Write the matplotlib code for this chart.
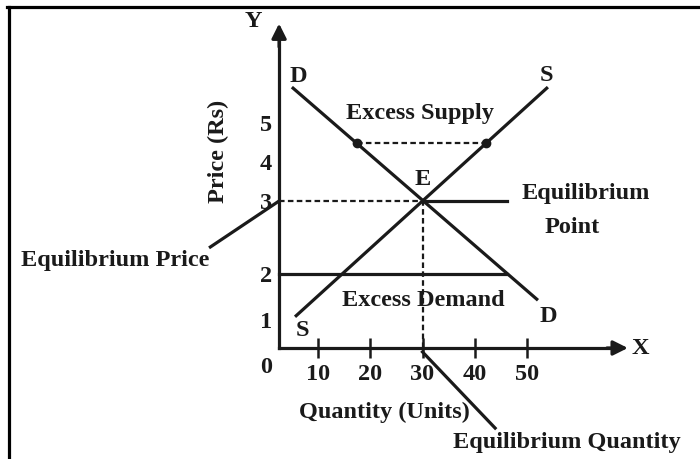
import numpy as np
import matplotlib
matplotlib.use("Agg")
import matplotlib.pyplot as plt

# ---------------- data ----------------
quantity_ticks = [10, 20, 30, 40, 50]
price_ticks = [1, 2, 3, 4, 5]
eq_quantity = 30
eq_price = 3
supply_q = [5.6, 54.0]
supply_p = [1.07, 5.92]
demand_q = [5.0, 52.1]
demand_p = [5.92, 1.43]
excess_supply_price = 4.5
excess_supply_q = [17.4, 42.2]
excess_demand_price = 2
excess_demand_q_end = 46.2

# ---------------- layout: schematic (hand-drawn) price axis ----------------
W, H = 700, 459
X0_PX, X_PX_PER_UNIT = 265.75, 5.225
P_KNOTS = np.array([-20, 0, 1, 2, 3, 4, 5, 20], dtype=float)
P_PIX = np.array([348 + 20 * 28, 348, 320, 274, 201, 162, 123, 123 - 15 * 39], dtype=float)
FWD_Y = H - P_PIX  # increasing


def p_forward(p):
    return np.interp(np.asarray(p, dtype=float), P_KNOTS, FWD_Y)


def p_inverse(v):
    return np.interp(np.asarray(v, dtype=float), FWD_Y, P_KNOTS)


fig = plt.figure(figsize=(W / 100, H / 100), dpi=100)
ax = fig.add_axes([0, 0, 1, 1])
ax.set_yscale('function', functions=(p_forward, p_inverse))
ax.set_xlim((0 - X0_PX) / X_PX_PER_UNIT, (W - X0_PX) / X_PX_PER_UNIT)
ax.set_ylim(float(p_inverse(0)), float(p_inverse(H)))

FONT = dict(family='Liberation Serif', fontweight='bold', color='#1a1a1a')
FS = 17.5
LW = 2.3

Y_AXIS_Q = 2.55      # quantity where the price axis is drawn
Y_TOP = 7.55         # arrow tip on the price axis
X_RIGHT = 69.3       # arrow tip on the quantity axis

# spines as the axes
for s in ['top', 'right']:
    ax.spines[s].set_visible(False)
ax.spines['bottom'].set_position(('data', 0))
ax.spines['left'].set_position(('data', Y_AXIS_Q))
ax.spines['bottom'].set_bounds(Y_AXIS_Q, X_RIGHT - 2)
ax.spines['left'].set_bounds(0, Y_TOP - 0.3)
for s in ['bottom', 'left']:
    ax.spines[s].set_linewidth(LW)
    ax.spines[s].set_color('#1a1a1a')

ax.set_xticks(quantity_ticks)
ax.set_xticklabels([str(v) for v in quantity_ticks])
ax.set_yticks(price_ticks)
ax.set_yticklabels([str(v) for v in price_ticks])
ax.tick_params(axis='x', direction='inout', length=15, width=1.8, color='#1a1a1a', pad=4)
ax.tick_params(axis='y', length=0, pad=5)
for lab in ax.get_xticklabels() + ax.get_yticklabels():
    lab.set_fontfamily('Liberation Serif')
    lab.set_fontweight('bold')
    lab.set_fontsize(FS)
    lab.set_color('#1a1a1a')

# arrowheads
ax.annotate('', xy=(Y_AXIS_Q, Y_TOP), xytext=(Y_AXIS_Q, Y_TOP - 0.6),
            arrowprops=dict(arrowstyle='-|>', lw=LW, color='#1a1a1a', mutation_scale=22, shrinkA=0, shrinkB=0))
ax.annotate('', xy=(X_RIGHT, 0), xytext=(X_RIGHT - 4, 0),
            arrowprops=dict(arrowstyle='-|>', lw=LW, color='#1a1a1a', mutation_scale=22, shrinkA=0, shrinkB=0))

# curves
ax.plot(supply_q, supply_p, color='#1a1a1a', lw=LW, solid_capstyle='butt')
ax.plot(demand_q, demand_p, color='#1a1a1a', lw=LW, solid_capstyle='butt')

# equilibrium guides
ax.plot([Y_AXIS_Q, eq_quantity], [eq_price, eq_price], color='#1a1a1a', lw=1.6, ls=(0, (2.5, 1.5)))
ax.plot([eq_quantity, eq_quantity], [0, eq_price], color='#1a1a1a', lw=1.6, ls=(0, (2.5, 1.5)))

# excess supply / demand
ax.plot(excess_supply_q, [excess_supply_price] * 2, color='#1a1a1a', lw=1.6, ls=(0, (2.5, 1.5)))
ax.plot(excess_supply_q, [excess_supply_price] * 2, 'o', color='#1a1a1a', ms=6)
ax.plot([Y_AXIS_Q, excess_demand_q_end], [excess_demand_price] * 2, color='#1a1a1a', lw=LW)

# pointer lines
ax.plot([eq_quantity, 46.2], [eq_price, eq_price], color='#1a1a1a', lw=LW)
ax.plot([-10.6, Y_AXIS_Q], [2.37, eq_price], color='#1a1a1a', lw=LW)
ax.plot([eq_quantity, 43.9], [-0.14, -2.86], color='#1a1a1a', lw=LW)

# texts
ax.text(-2.4, 7.6, 'Y', ha='center', va='center', fontsize=FS, **FONT)
ax.text(71.6, 0, 'X', ha='center', va='center', fontsize=FS, **FONT)
ax.text(6.2, 6.2, 'D', ha='center', va='center', fontsize=FS, **FONT)
ax.text(53.8, 6.23, 'S', ha='center', va='center', fontsize=FS, **FONT)
ax.text(29.6, 5.25, 'Excess Supply', ha='center', va='center', fontsize=FS, **FONT)
ax.text(30.0, 3.54, 'E', ha='center', va='center', fontsize=FS, **FONT)
ax.text(61.3, 3.2, 'Equilibrium', ha='center', va='center', fontsize=FS, **FONT)
ax.text(58.6, 2.64, 'Point', ha='center', va='center', fontsize=FS, **FONT)
ax.text(-28.8, 2.19, 'Equilibrium Price', ha='center', va='center', fontsize=FS, **FONT)
ax.text(30.1, 1.43, 'Excess Demand', ha='center', va='center', fontsize=FS, **FONT)
ax.text(7.0, 0.64, 'S', ha='center', va='center', fontsize=FS, **FONT)
ax.text(54.0, 1.07, 'D', ha='center', va='center', fontsize=FS, **FONT)
ax.text(-9.1, 4.26, 'Price (Rs)', ha='center', va='center', rotation=90, fontsize=FS, **FONT)
ax.text(22.8, -2.29, 'Quantity (Units)', ha='center', va='center', fontsize=FS, **FONT)
ax.text(35.9, -3.39, 'Equilibrium Quantity', ha='left', va='center', fontsize=FS, **FONT)
ax.annotate('0', xy=(0, 0), xytext=(0, -14), textcoords='offset points',
            ha='center', va='center', fontsize=FS, **FONT)

# frame (left and top border of the picture)
fig.add_artist(plt.Line2D([8.5 / W, 8.5 / W], [0, 1 - 6.5 / H], color='black', lw=2.3, transform=fig.transFigure))
fig.add_artist(plt.Line2D([7 / W, 1], [1 - 6.5 / H, 1 - 6.5 / H], color='black', lw=2.3, transform=fig.transFigure))

fig.savefig('out.png', dpi=100)
